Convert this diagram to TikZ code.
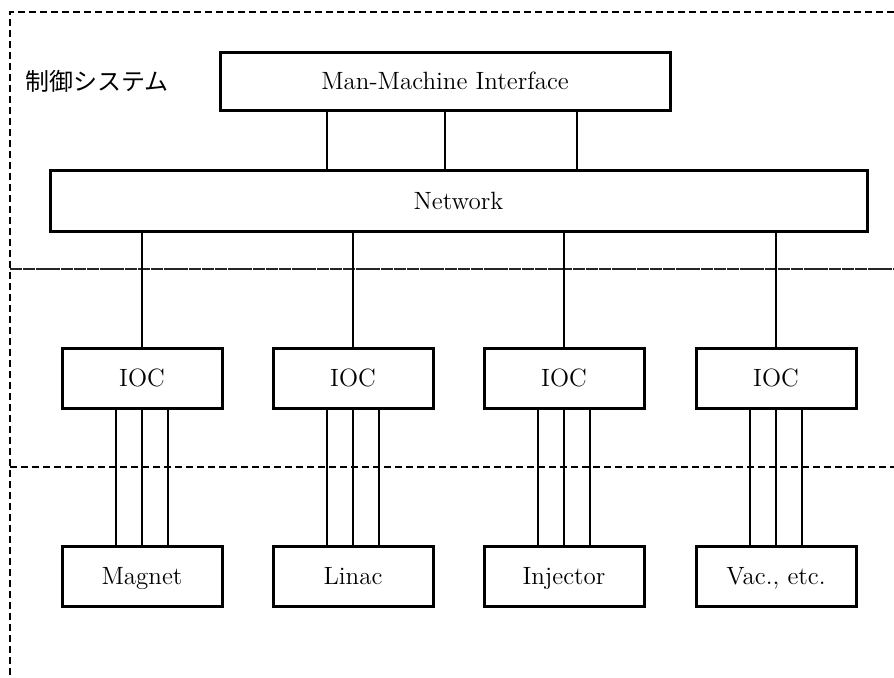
\documentclass[tikz,border=0pt]{standalone}
\usepackage{fontspec}
\newfontfamily\jpfont{Noto Sans CJK JP}
\begin{document}
\begin{tikzpicture}[x=0.5pt,y=0.5pt]
\fontsize{12.5pt}{14pt}\selectfont
\tikzstyle{box}=[draw,line width=1.5pt,minimum width=80pt,minimum height=30pt,inner sep=0pt,text height=9.6pt,text depth=1pt]
\tikzstyle{wire}=[line width=0.6pt]
\tikzstyle{border}=[line width=0.6pt,dash pattern=on 3.5pt off 2pt]
\tikzstyle{fineborder}=[line width=0.6pt,dash pattern=on 6pt off 0.4pt,black!85]
	\useasboundingbox (0,0) rectangle (894,677);

	% frame and levels
	\coordinate (tl) at (10,665);
	\coordinate (tr) at (894,665);
	\coordinate (bl) at (10,0);
	\draw[border] (tr) -- (tl) -- (bl);
	\draw[fineborder] (10,408) -- (894,408);
	\draw[border] (10,210) -- (894,210);

	\node[anchor=west,inner sep=0pt] (sys) at (25,596) {\jpfont\fontsize{12pt}{14pt}\selectfont 制御システム};

	\node[box,minimum width=225pt,minimum height=29pt] (mmi) at (445,596) {Man-Machine Interface};
	\node[box,minimum width=408.5pt,minimum height=30.5pt] (net) at (458.5,476.5) {Network};

	\node[box] (ioc1) at (142,299) {IOC};
	\node[box] (ioc2) at (353,299) {IOC};
	\node[box] (ioc3) at (564,299) {IOC};
	\node[box] (ioc4) at (776,299) {IOC};

	\node[box] (dev1) at (142,101) {Magnet};
	\node[box] (dev2) at (353,101) {Linac};
	\node[box] (dev3) at (564,101) {Injector};
	\node[box] (dev4) at (776,101) {Vac., etc.};

	\foreach \d in {-59pt,0pt,66pt}
		\draw[wire] ([xshift=\d]mmi.south) -- ([xshift=\d]mmi.south |- net.north);

	\foreach \i in {1,...,4} {
		\draw[wire] (net.south -| ioc\i) -- (ioc\i.north);
		\foreach \d in {-13pt,0pt,13pt}
			\draw[wire] ([xshift=\d]ioc\i.south) -- ([xshift=\d]dev\i.north);
	}
\end{tikzpicture}
\end{document}
